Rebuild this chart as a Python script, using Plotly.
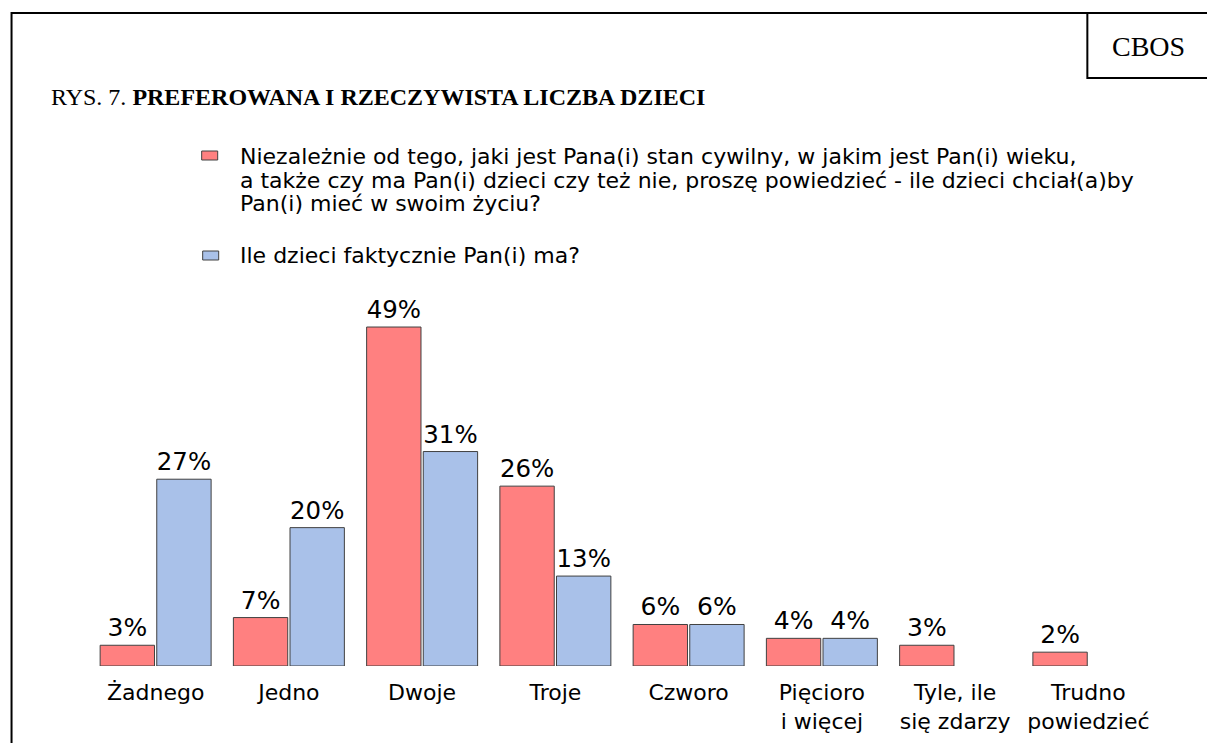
import plotly.graph_objects as go

categories = ["Żadnego", "Jedno", "Dwoje", "Troje", "Czworo",
              "Pięcioro<br>i więcej", "Tyle, ile<br>się zdarzy", "Trudno<br>powiedzieć"]
preferred = [3, 7, 49, 26, 6, 4, 3, 2]
actual = [27, 20, 31, 13, 6, 4, None, None]

legend_pref_lines = [
    "Niezależnie od tego, jaki jest Pana(i) stan cywilny, w jakim jest Pan(i) wieku,",
    "a także czy ma Pan(i) dzieci czy też nie, proszę powiedzieć - ile dzieci chciał(a)by",
    "Pan(i) mieć w swoim życiu?",
]
legend_act_lines = ["Ile dzieci faktycznie Pan(i) ma?"]

RED = "#FF8080"
BLUE = "#A9C1E9"
EDGE = "#404040"
SANS = "DejaVu Sans"
SERIF = "Liberation Serif"

W, H = 1207, 743
L, R_, T, B = 89.4, 1154.6, 180, 666
YMAX = (B - T) / 6.918


def px(xp):
    return (xp - L) / (R_ - L)


def py(yp):
    return (B - yp) / (B - T)


fig = go.Figure()
fig.add_trace(go.Bar(
    x=categories, y=preferred, name=legend_pref_lines[0],
    marker=dict(color=RED, line=dict(color=EDGE, width=1)),
    texttemplate="%{y}%", textposition="outside",
    textfont=dict(family=SANS, size=25, color="black"),
    cliponaxis=False, showlegend=False,
))
fig.add_trace(go.Bar(
    x=categories, y=actual, name=legend_act_lines[0],
    marker=dict(color=BLUE, line=dict(color=EDGE, width=1)),
    texttemplate="%{y}%", textposition="outside",
    textfont=dict(family=SANS, size=25, color="black"),
    cliponaxis=False, showlegend=False,
))

shapes = []
annotations = []

# outer frame (top and left) and CBOS box
shapes.append(dict(type="line", xref="paper", yref="paper",
                   x0=px(12), x1=px(1210), y0=py(13), y1=py(13),
                   line=dict(color="black", width=2)))
shapes.append(dict(type="line", xref="paper", yref="paper",
                   x0=px(12), x1=px(12), y0=py(12), y1=py(745),
                   line=dict(color="black", width=2)))
shapes.append(dict(type="rect", xref="paper", yref="paper",
                   x0=px(1087), x1=px(1212), y0=py(13), y1=py(78),
                   line=dict(color="black", width=2)))
annotations.append(dict(xref="paper", yref="paper", x=px(1148), y=py(46),
                        text="CBOS", showarrow=False,
                        font=dict(family=SERIF, size=28, color="black"),
                        xanchor="center", yanchor="middle"))
annotations.append(dict(xref="paper", yref="paper", x=px(49), y=py(97),
                        text="RYS. 7. <b>PREFEROWANA I RZECZYWISTA LICZBA DZIECI</b>",
                        showarrow=False,
                        font=dict(family=SERIF, size=24, color="black"),
                        xanchor="left", yanchor="middle"))

# legend (manual, to match the tight line spacing)
shapes.append(dict(type="rect", xref="paper", yref="paper",
                   x0=px(202), x1=px(218), y0=py(151), y1=py(160),
                   fillcolor=RED, line=dict(color=EDGE, width=1)))
shapes.append(dict(type="rect", xref="paper", yref="paper",
                   x0=px(203), x1=px(219), y0=py(251), y1=py(260),
                   fillcolor=BLUE, line=dict(color=EDGE, width=1)))
for i, line in enumerate(legend_pref_lines):
    annotations.append(dict(xref="paper", yref="paper", x=px(238), y=py(156.5 + 23.5 * i),
                            text=line, showarrow=False,
                            font=dict(family=SANS, size=22, color="black"),
                            xanchor="left", yanchor="middle"))
for i, line in enumerate(legend_act_lines):
    annotations.append(dict(xref="paper", yref="paper", x=px(238), y=py(255.5 + 23.5 * i),
                            text=line, showarrow=False,
                            font=dict(family=SANS, size=22, color="black"),
                            xanchor="left", yanchor="middle"))

fig.update_layout(
    width=W, height=H,
    margin=dict(l=L, r=W - R_, t=T, b=H - B, pad=0, autoexpand=False),
    paper_bgcolor="white", plot_bgcolor="white",
    barmode="group", bargap=0.15, bargroupgap=0.04,
    showlegend=False,
    xaxis=dict(range=[-0.5, 7.5], showgrid=False, zeroline=False, showline=False,
               ticks="", tickfont=dict(family=SANS, size=22, color="black"),
               ticklabelstandoff=11, automargin=False, fixedrange=True),
    yaxis=dict(range=[0, YMAX], visible=False, automargin=False, fixedrange=True),
    shapes=shapes, annotations=annotations,
)

fig.write_html("out.html", config={"displayModeBar": False})
